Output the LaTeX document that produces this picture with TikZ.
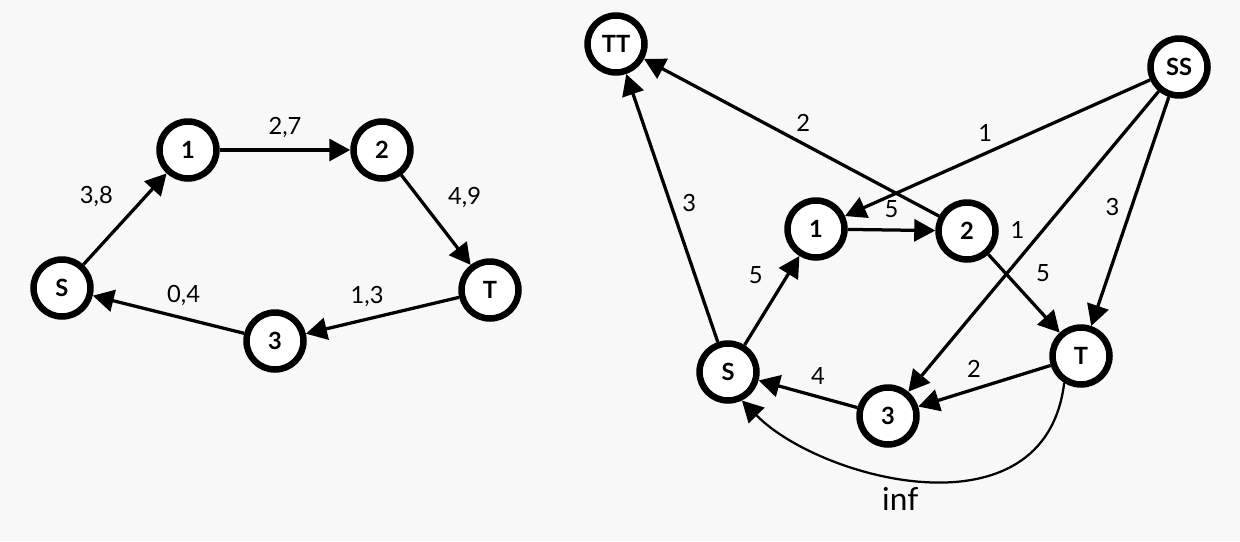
\documentclass[tikz,border=0pt]{standalone}
\usepackage{fontspec}
\setmainfont{Lato}
\usepackage{tikz}
\usetikzlibrary{arrows.meta}
\definecolor{pagegray}{RGB}{248,248,248}

\begin{document}
\begin{tikzpicture}[x=0.02cm, y=-0.02cm,
    vertex/.style={circle, draw, fill=white, line width=0.13cm, minimum size=1.14cm,
      inner sep=0pt, font=\fontsize{13.5}{15}\selectfont\bfseries},
    edge/.style={-{Triangle[length=0.42cm,width=0.44cm]}, line width=0.065cm},
    wlabel/.style={font=\fontsize{13.5}{15}\selectfont, inner sep=6pt}]
  \useasboundingbox (0,0) rectangle (1240,541);
  \fill[pagegray] (0,0) rectangle (1240,541);
  % Left: flow network with lower and upper bounds
  \begin{scope}
    \node[vertex] (s) at (62,288) {S};
    \node[vertex] (n1) at (188,150) {1};
    \node[vertex] (n2) at (382,150) {2};
    \node[vertex] (t) at (490,290) {T};
    \node[vertex] (n3) at (275,341) {3};
    \draw[edge] (s) -- node[wlabel, above left] {3,8} (n1);
    \draw[edge] (n1) -- node[wlabel, above] {2,7} (n2);
    \draw[edge] (n2) -- node[wlabel, above right] {4,9} (t);
    \draw[edge] (t) -- node[wlabel, pos=.6, above] {1,3} (n3);
    \draw[edge] (n3) -- node[wlabel, pos=.4, above] {0,4} (s);
  \end{scope}
  % Right: auxiliary network with super source and super sink
  \begin{scope}
    \node[vertex] (rtt) at (616,44) {TT};
    \node[vertex] (rss) at (1179,67) {SS};
    \node[vertex] (r1) at (816,229) {1};
    \node[vertex] (r2) at (967,231) {2};
    \node[vertex] (rt) at (1081,356) {T};
    \node[vertex] (rs) at (728,372) {S};
    \node[vertex] (r3) at (888,416) {3};
    \draw[edge] (rs) -- node[wlabel, pos=.52, right] {3} (rtt);
    \draw[edge] (r2) -- node[wlabel, pos=.46, above] {2} (rtt);
    \draw[edge] (rss) -- node[wlabel, pos=.54, above] {1} (r1);
    \draw[edge] (rss) -- node[wlabel, pos=.46, left, inner sep=10pt] {1} (r3);
    \draw[edge] (rss) -- node[wlabel, pos=.48, left] {3} (rt);
    \draw[edge] (r1) -- node[wlabel, above] {5} (r2);
    \draw[edge] (rs) -- node[wlabel, pos=.55, above left] {5} (r1);
    \draw[edge] (r2) -- node[wlabel, above right] {5} (rt);
    \draw[edge] (rt) -- node[wlabel, pos=.58, above] {2} (r3);
    \draw[edge] (r3) -- node[wlabel, pos=.4, above] {4} (rs);
    \draw[edge, line width=0.045cm] (rt.-122) .. controls (1045,540) and (820,480) ..
      node[wlabel, pos=.56, below, inner sep=5pt, font=\fontsize{18}{20}\selectfont] {inf} (rs.-64);
  \end{scope}
\end{tikzpicture}
\end{document}
